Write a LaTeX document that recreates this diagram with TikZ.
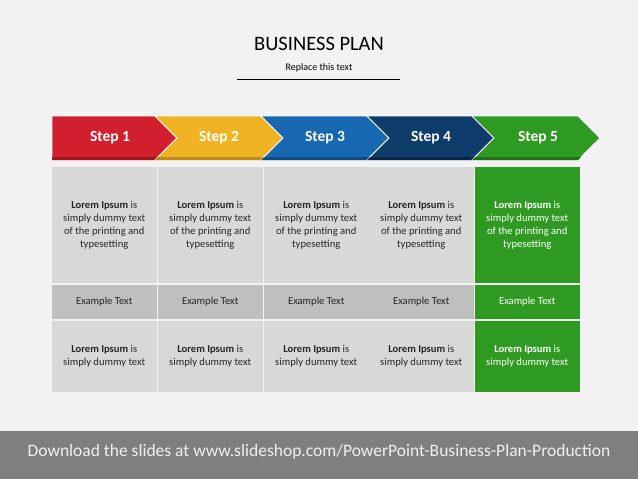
\documentclass[tikz,border=0pt]{standalone}
\usepackage{fontspec}
\setmainfont{Carlito}

\definecolor{sfondo}{HTML}{F2F2F2}
\definecolor{piede}{HTML}{7F7F7F}
\definecolor{rosso}{HTML}{D21F2E}
\definecolor{rossoscuro}{HTML}{A3161F}
\definecolor{giallo}{HTML}{F0B323}
\definecolor{gialloscuro}{HTML}{BE8B17}
\definecolor{blu}{HTML}{1767B1}
\definecolor{bluscuro}{HTML}{0E4C88}
\definecolor{navy}{HTML}{0E3C6B}
\definecolor{navyscuro}{HTML}{072848}
\definecolor{verde}{HTML}{2E9A22}
\definecolor{verdescuro}{HTML}{1F7316}
\definecolor{cellagrigia}{HTML}{D8D8D8}
\definecolor{cellascura}{HTML}{BFBFBF}

\tikzset{
  freccia/.style={draw=white, line width=0.8pt, line join=miter},
  passo/.style={text=white, font=\fontsize{15.5}{18}\selectfont\bfseries},
  cella/.style={minimum width=104.5pt, inner sep=0pt, align=center,
    font=\fontsize{10.6}{13}\selectfont, text=black!85},
  cellaverde/.style={cella, fill=verde, text=white}
}

\begin{document}
\begin{tikzpicture}[x=1pt, y=-1pt]

        % 1. Sfondo e piede
        \fill[sfondo] (0, 0) rectangle (638, 479);
        \useasboundingbox (0, 0) rectangle (638, 479);
        \fill[piede] (0, 431) rectangle (638, 479);
        \node[text=white!94!black, font=\fontsize{17.5}{20}\selectfont] (download) at (319, 452)
          {Download the slides at www.slideshop.com/PowerPoint-Business-Plan-Production};

        % 2. Titolo
        \node[font=\fontsize{20.5}{24}\selectfont] (titolo) at (319, 44) {BUSINESS PLAN};
        \node[font=\fontsize{10}{12}\selectfont] (sottotitolo) at (319, 68) {Replace this text};
        \draw[line width=0.9pt] (237, 79) -- (400, 79);

        % 3. Frecce (chevron)
        \filldraw[freccia, fill=rosso] (52, 116) -- (155, 116) -- (177, 138) -- (155, 160) -- (52, 160) -- cycle;
        \fill[rossoscuro] (52, 157) -- (158, 157) -- (155, 160) -- (52, 160) -- cycle;
        \node[passo] (step1) at (110, 138) {Step 1};

        \filldraw[freccia, fill=giallo] (155, 116) -- (261, 116) -- (283, 138) -- (261, 160) -- (155, 160) -- (177, 138) -- cycle;
        \fill[gialloscuro] (158, 157) -- (264, 157) -- (261, 160) -- (155, 160) -- cycle;
        \node[passo] (step2) at (219, 138) {Step 2};

        \filldraw[freccia, fill=blu] (261, 116) -- (367, 116) -- (389, 138) -- (367, 160) -- (261, 160) -- (283, 138) -- cycle;
        \fill[bluscuro] (264, 157) -- (370, 157) -- (367, 160) -- (261, 160) -- cycle;
        \node[passo] (step3) at (325, 138) {Step 3};

        \filldraw[freccia, fill=navy] (367, 116) -- (472, 116) -- (494, 138) -- (472, 160) -- (367, 160) -- (389, 138) -- cycle;
        \fill[navyscuro] (370, 157) -- (475, 157) -- (472, 160) -- (367, 160) -- cycle;
        \node[passo] (step4) at (431, 138) {Step 4};

        \filldraw[freccia, fill=verde] (472, 116) -- (578, 116) -- (600, 138) -- (578, 160) -- (472, 160) -- (494, 138) -- cycle;
        \fill[verdescuro] (475, 157) -- (581, 157) -- (578, 160) -- (472, 160) -- cycle;
        \node[passo] (step5) at (538, 138) {Step 5};

        % 4. Prima riga di celle
        \node[cella, fill=cellagrigia, minimum height=116pt] (r1c1) at (104.25, 225)
          {\textbf{Lorem Ipsum} is\\simply dummy text\\of the printing and\\typesetting};
        \node[cella, fill=cellagrigia, minimum height=116pt] (r1c2) at (210.25, 225)
          {\textbf{Lorem Ipsum} is\\simply dummy text\\of the printing and\\typesetting};
        \node[cella, fill=cellagrigia, minimum height=116pt] (r1c3) at (316.25, 225)
          {\textbf{Lorem Ipsum} is\\simply dummy text\\of the printing and\\typesetting};
        \node[cella, fill=cellagrigia, minimum height=116pt] (r1c4) at (421.25, 225)
          {\textbf{Lorem Ipsum} is\\simply dummy text\\of the printing and\\typesetting};
        \node[cellaverde, minimum height=116pt] (r1c5) at (527.25, 225)
          {\textbf{Lorem Ipsum} is\\simply dummy text\\of the printing and\\typesetting};

        % 5. Seconda riga (Example Text)
        \node[cella, fill=cellascura, minimum height=34pt] (r2c1) at (104.25, 302) {Example Text};
        \node[cella, fill=cellascura, minimum height=34pt] (r2c2) at (210.25, 302) {Example Text};
        \node[cella, fill=cellascura, minimum height=34pt] (r2c3) at (316.25, 302) {Example Text};
        \node[cella, fill=cellascura, minimum height=34pt] (r2c4) at (421.25, 302) {Example Text};
        \node[cellaverde, minimum height=34pt] (r2c5) at (527.25, 302) {Example Text};

        % 6. Terza riga
        \node[cella, fill=cellagrigia, minimum height=71pt] (r3c1) at (104.25, 356.5)
          {\textbf{Lorem Ipsum} is\\simply dummy text};
        \node[cella, fill=cellagrigia, minimum height=71pt] (r3c2) at (210.25, 356.5)
          {\textbf{Lorem Ipsum} is\\simply dummy text};
        \node[cella, fill=cellagrigia, minimum height=71pt] (r3c3) at (316.25, 356.5)
          {\textbf{Lorem Ipsum} is\\simply dummy text};
        \node[cella, fill=cellagrigia, minimum height=71pt] (r3c4) at (421.25, 356.5)
          {\textbf{Lorem Ipsum} is\\simply dummy text};
        \node[cellaverde, minimum height=71pt] (r3c5) at (527.25, 356.5)
          {\textbf{Lorem Ipsum} is\\simply dummy text};

\end{tikzpicture}
\end{document}
